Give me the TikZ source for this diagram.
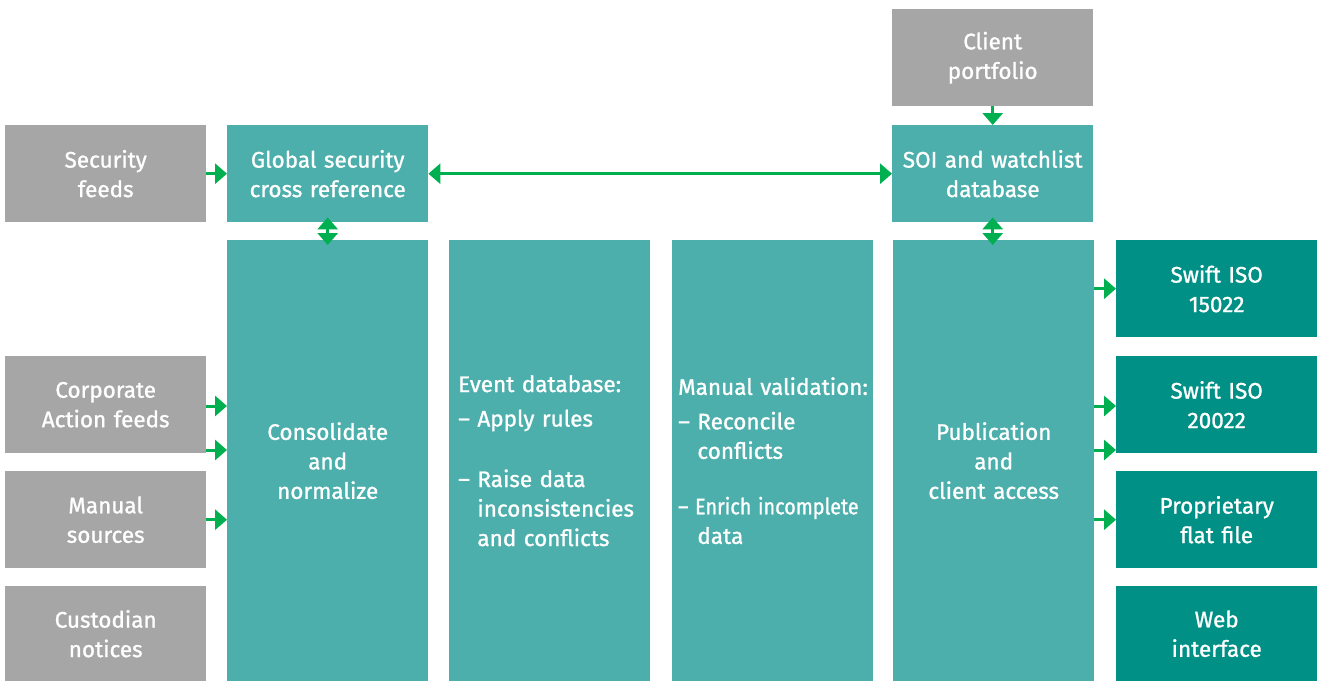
\documentclass[tikz,border=0pt]{standalone}
\usepackage{fontspec}
\setmainfont{Fira Sans}[FakeBold=1.1]
\usetikzlibrary{arrows.meta}
\definecolor{feedgrey}{HTML}{A6A6A6}
\definecolor{stepteal}{HTML}{4DAFAC}
\definecolor{outteal}{HTML}{009085}
\definecolor{flowgreen}{HTML}{00B050}
\tikzset{
  box/.style={anchor=north west, minimum width=201pt, minimum height=97pt, inner sep=0pt,
    text width=190pt, align=center, text=white, font=\fontsize{22.5}{29.5}\selectfont},
  feed/.style={box, fill=feedgrey},
  stepbox/.style={box, fill=stepteal},
  outbox/.style={box, fill=outteal},
  tallbox/.style={stepbox, minimum height=441pt},
  listbox/.style={tallbox, text width=183pt, align=left},
  flow/.style={draw=flowgreen, line width=3pt, -{Triangle[length=12pt,width=20pt]}},
  both/.style={flow, {Triangle[length=12pt,width=20pt]}-{Triangle[length=12pt,width=20pt]}}
}
\newcommand{\dashin}{\phantom{– }}
\begin{document}
\begin{tikzpicture}[x=1pt,y=-1pt]
\useasboundingbox (0,0) rectangle (1317,681);
% sources
\node[feed] (secfeeds) at (5,125) {Security\\feeds};
\node[feed] (corpfeeds) at (5,356) {Corporate\\Action feeds};
\node[feed] (mansrc) at (5,471) {Manual\\sources};
\node[feed, minimum height=95pt] (custod) at (5,586) {Custodian\\notices};
\node[feed] (portf) at (892,9) {Client\\portfolio};
% processing
\node[stepbox] (glob) at (227,125) {Global security\\cross reference};
\node[stepbox] (soi) at (892,125) {SOI and watchlist\\database};
\node[tallbox] (consol) at (227,240) {Consolidate\\and\\normalize};
\node[listbox] (eventdb) at (449,240) {Event database:\\[5pt]
  – Apply rules\\[31pt]
  – Raise data\\
  \dashin inconsistencies\\
  \dashin and conflicts};
\node[listbox, text width=189pt] (manval) at (672,240) {\hbox{Manual validation:}\\[5pt]
  – Reconcile\\
  \dashin conflicts\\[26pt]
  \scalebox{0.88}[1]{– Enrich incomplete}\\
  \dashin data};
\node[tallbox] (publ) at (893,240) {Publication\\and\\client access};
% outputs
\node[outbox] (iso15022) at (1116,240) {Swift ISO\\15022};
\node[outbox] (iso20022) at (1116,356) {Swift ISO\\20022};
\node[outbox] (flatfile) at (1116,471) {Proprietary\\flat file};
\node[outbox, minimum height=95pt] (webui) at (1116,586) {Web\\interface};
% connectors
\draw[flow] (secfeeds) -- (glob);
\draw[both] (glob) -- (soi);
\draw[both, shorten <=-5pt, shorten >=-5pt] (glob) -- (consol);
\draw[flow] (portf) -- (soi);
\draw[both, shorten <=-5pt, shorten >=-5pt] (soi.south) -- (soi.south |- publ.north);
\draw[flow] (corpfeeds.east |- 0,406) -- (consol.west |- 0,406);
\draw[flow] (corpfeeds.east |- 0,450) -- (consol.west |- 0,450);
\draw[flow] (mansrc) -- (consol.west |- mansrc);
\draw[flow] (publ.east |- iso15022) -- (iso15022);
\draw[flow] (publ.east |- 0,406) -- (iso20022.west |- 0,406);
\draw[flow] (publ.east |- 0,450) -- (iso20022.west |- 0,450);
\draw[flow] (publ.east |- flatfile) -- (flatfile);
\end{tikzpicture}
\end{document}
